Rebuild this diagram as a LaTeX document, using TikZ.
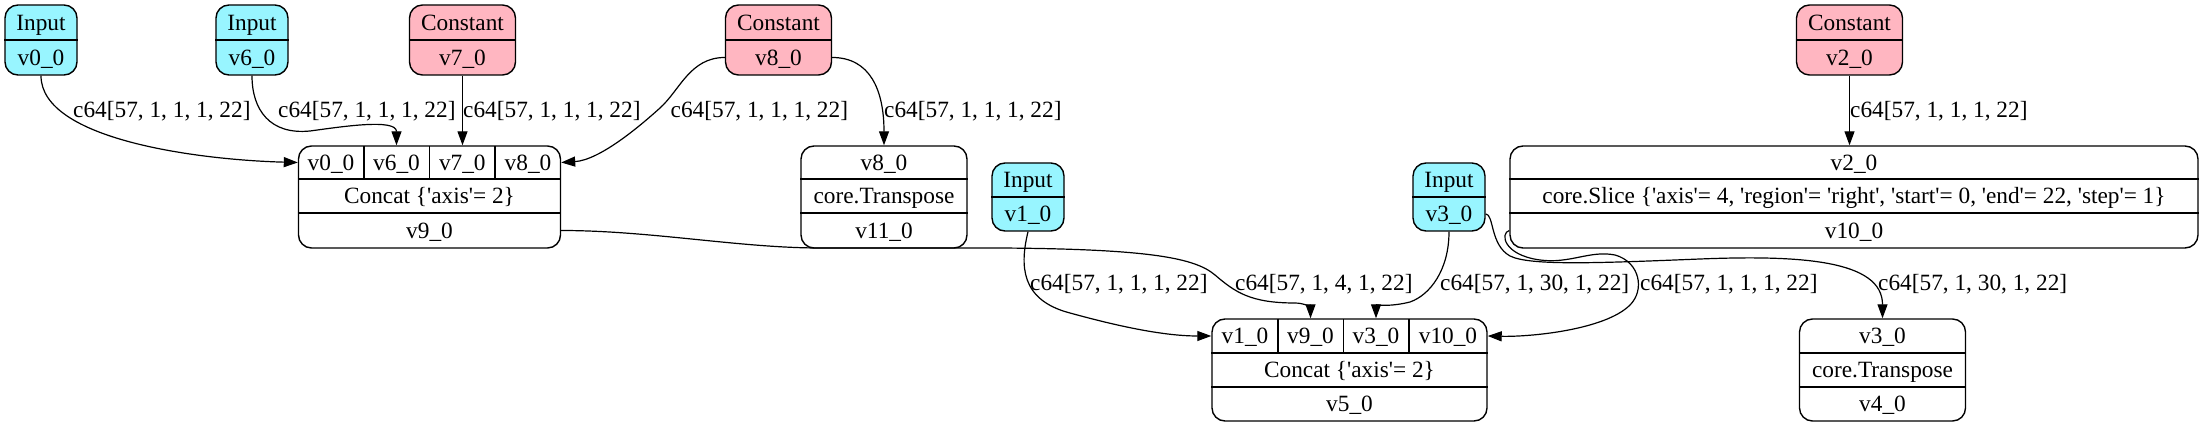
\documentclass[tikz,border=0pt]{standalone}
\usepackage{fontspec}
\setmainfont{Liberation Serif}
\usetikzlibrary{arrows.meta}
\definecolor{inpc}{HTML}{98F5FF}
\definecolor{cstc}{HTML}{FFB6C1}
\newcommand{\qq}{\textquotesingle}
\tikzset{
 rec/.style={draw, line width=1.4pt, rounded corners=13pt, inner sep=0pt, minimum height=102pt},
 inp/.style={rec, fill=inpc, minimum width=72pt, minimum height=70pt},
 cst/.style={rec, fill=cstc, minimum width=106pt, minimum height=70pt},
 fld/.style={inner sep=0pt, text height=15.7pt, text depth=0pt},
 lbl/.style={inner sep=0pt, text height=15.7pt, text depth=0pt, anchor=west},
 sep/.style={line width=1.4pt},
 edge/.style={line width=1.2pt, -{Triangle[length=14pt,width=10pt]}},
}
\begin{document}
\begin{tikzpicture}[x=1pt,y=-1pt,font=\fontsize{23.3}{28}\selectfont]
\useasboundingbox (0,0) rectangle (2205,427);
% sources
\node[inp] (A) at (41,40) {};
\draw[sep] (A.west) -- (A.east);
\node[fld] (A-t) at (41,22.5) {Input};
\node[fld] (A-v) at (41,57.5) {v0\_0};
\node[inp] (B) at (252,40) {};
\draw[sep] (B.west) -- (B.east);
\node[fld] (B-t) at (252,22.5) {Input};
\node[fld] (B-v) at (252,57.5) {v6\_0};
\node[cst] (C) at (462.5,40) {};
\draw[sep] (C.west) -- (C.east);
\node[fld] (C-t) at (462.5,22.5) {Constant};
\node[fld] (C-v) at (462.5,57.5) {v7\_0};
\node[cst] (D) at (778.5,40) {};
\draw[sep] (D.west) -- (D.east);
\node[fld] (D-t) at (778.5,22.5) {Constant};
\node[fld] (D-v) at (778.5,57.5) {v8\_0};
\node[cst] (E) at (1849.5,40) {};
\draw[sep] (E.west) -- (E.east);
\node[fld] (E-t) at (1849.5,22.5) {Constant};
\node[fld] (E-v) at (1849.5,57.5) {v2\_0};
\node[inp, minimum height=68pt] (H) at (1028,197) {};
\draw[sep] (H.west) -- (H.east);
\node[fld] (H-t) at (1028,180) {Input};
\node[fld] (H-v) at (1028,214) {v1\_0};
\node[inp, minimum height=68pt] (I) at (1449,197) {};
\draw[sep] (I.west) -- (I.east);
\node[fld] (I-t) at (1449,180) {Input};
\node[fld] (I-v) at (1449,214) {v3\_0};
% concat v9_0
\node[rec, minimum width=262pt] (F) at (429.5,197) {};
\draw[sep] (F.west |- 0,179) -- (F.east |- 0,179);
\draw[sep] (F.west |- 0,213) -- (F.east |- 0,213);
\draw[sep] (364,146) -- (364,179);
\draw[sep] (429.5,146) -- (429.5,179);
\draw[sep] (495,146) -- (495,179);
\node[fld] (F-a) at (331,162.5) {v0\_0};
\node[fld] (F-b) at (396.5,162.5) {v6\_0};
\node[fld] (F-c) at (462.3,162.5) {v7\_0};
\node[fld] (F-d) at (528,162.5) {v8\_0};
\node[fld] (F-op) at (429.5,196) {Concat \{\qq axis\qq= 2\}};
\node[fld] (F-out) at (429.5,230.5) {v9\_0};
% transpose v8_0
\node[rec, minimum width=166pt] (G) at (884,197) {};
\draw[sep] (G.west |- 0,179) -- (G.east |- 0,179);
\draw[sep] (G.west |- 0,213) -- (G.east |- 0,213);
\node[fld] (G-t) at (884,162.5) {v8\_0};
\node[fld] (G-op) at (884,196) {core.Transpose};
\node[fld] (G-out) at (884,230.5) {v11\_0};
% slice
\node[rec, minimum width=688pt] (J) at (1854,197) {};
\draw[sep] (J.west |- 0,179) -- (J.east |- 0,179);
\draw[sep] (J.west |- 0,213) -- (J.east |- 0,213);
\node[fld] (J-t) at (1854,162.5) {v2\_0};
\node[fld] (J-op) at (1854,196) {core.Slice \{\qq axis\qq= 4, \qq region\qq= \qq right\qq, \qq start\qq= 0, \qq end\qq= 22, \qq step\qq= 1\}};
\node[fld] (J-out) at (1854,230.5) {v10\_0};
% concat v5_0
\node[rec, minimum width=275pt] (K) at (1349.5,370) {};
\draw[sep] (K.west |- 0,353) -- (K.east |- 0,353);
\draw[sep] (K.west |- 0,387) -- (K.east |- 0,387);
\draw[sep] (1278,319) -- (1278,353);
\draw[sep] (1343.5,319) -- (1343.5,353);
\draw[sep] (1409,319) -- (1409,353);
\node[fld] (K-a) at (1245,336) {v1\_0};
\node[fld] (K-b) at (1310.5,336) {v9\_0};
\node[fld] (K-c) at (1376,336) {v3\_0};
\node[fld] (K-d) at (1448,336) {v10\_0};
\node[fld] (K-op) at (1349.5,370) {Concat \{\qq axis\qq= 2\}};
\node[fld] (K-out) at (1349.5,404) {v5\_0};
% transpose v3_0
\node[rec, minimum width=166pt] (L) at (1882.5,370) {};
\draw[sep] (L.west |- 0,353) -- (L.east |- 0,353);
\draw[sep] (L.west |- 0,387) -- (L.east |- 0,387);
\node[fld] (L-t) at (1882.5,336) {v3\_0};
\node[fld] (L-op) at (1882.5,370) {core.Transpose};
\node[fld] (L-out) at (1882.5,404) {v4\_0};
% edges
\draw[edge] (A.south) .. controls (41,140) and (200,160) .. (F.west |- F-a);
\draw[edge] (B.south) .. controls (252,110) and (270,135) .. (310,131) .. controls (340,127) and (396.5,118) .. (F-b |- F.north);
\draw[edge] (C.south) -- (C.south |- F.north);
\draw[edge] (D.west |- D-v) .. controls (690,57.5) and (680,90) .. (660,108) .. controls (640,126) and (600,160) .. (F.east |- F-d);
\draw[edge] (D.east |- D-v) .. controls (870,57.5) and (884,90) .. (G.north);
\draw[edge] (E.south) -- (E.south |- J.north);
\draw[edge] (F.east |- F-out) .. controls (650,230.5) and (740,248) .. (820,248) -- (1000,248) .. controls (1150,249) and (1195,258) .. (1215,275) .. controls (1235,292) and (1250,303) .. (1295,303) .. controls (1305,303) and (1310.5,308) .. (K-b |- K.north);
\draw[edge] (H.south) .. controls (1020,265) and (1020,300) .. (1070,313) .. controls (1110,324) and (1160,336) .. (K.west |- K-a);
\draw[edge] (I.south) .. controls (1449,270) and (1430,295) .. (1410,302) .. controls (1390,307) and (1376,305) .. (K-c |- K.north);
\draw[edge] (I.east |- I-v) .. controls (1494,214) and (1490,245) .. (1510,256) .. controls (1530,266) and (1600,263) .. (1700,259) .. controls (1800,255) and (1882.5,260) .. (L-t |- L.north);
\draw[edge] (J.west |- J-out) .. controls (1500,233) and (1503,255) .. (1540,260) .. controls (1570,264) and (1590,250) .. (1615,255) .. controls (1640,262) and (1645,290) .. (1630,305) .. controls (1605,330) and (1530,337) .. (K.east |- K-d);
% labels
\node[lbl] (l1) at (73,110) {c64[57, 1, 1, 1, 22]};
\node[lbl] (l2) at (278,110) {c64[57, 1, 1, 1, 22]};
\node[lbl] (l3) at (463,110) {c64[57, 1, 1, 1, 22]};
\node[lbl] (l4) at (670.5,110) {c64[57, 1, 1, 1, 22]};
\node[lbl] (l5) at (884,110) {c64[57, 1, 1, 1, 22]};
\node[lbl] (l6) at (1850,110) {c64[57, 1, 1, 1, 22]};
\node[lbl] (l8) at (1030,283) {c64[57, 1, 1, 1, 22]};
\node[lbl] (l7) at (1235,283) {c64[57, 1, 4, 1, 22]};
\node[lbl] (l9) at (1440,283) {c64[57, 1, 30, 1, 22]};
\node[lbl] (l11) at (1640,283) {c64[57, 1, 1, 1, 22]};
\node[lbl] (l10) at (1878,283) {c64[57, 1, 30, 1, 22]};
\end{tikzpicture}
\end{document}
